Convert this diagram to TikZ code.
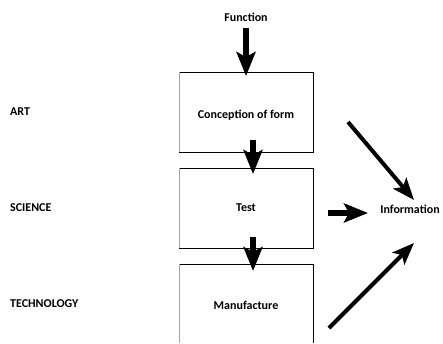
\documentclass[tikz,border=0pt]{standalone}
\usepackage{fontspec}
\setmainfont{Carlito}
\usetikzlibrary{arrows.meta}
\begin{document}
\begin{tikzpicture}[x=1pt,y=-1pt,
  lbl/.style={font=\bfseries\fontsize{12}{14}\selectfont, inner sep=0pt},
  boxline/.style={line width=0.9pt, draw=black},
  boxleft/.style={line width=0.9pt, draw=black!35},
  bigarrow/.style={line width=5.5pt, -{Stealth[length=24pt,width=19pt,inset=5pt]}},
  diagarrow/.style={line width=4pt, -{Stealth[length=22pt,width=17pt,inset=5pt]}}]
\useasboundingbox (0,0) rectangle (443,343);
% boxes
\draw[boxline] (179,72) -- (313,72) -- (313,152) -- (179,152);
\draw[boxleft] (179,72) -- (179,152);
\draw[boxline] (179,168) -- (313,168) -- (313,248) -- (179,248);
\draw[boxleft] (179,168) -- (179,248);
\draw[boxline] (179,264) -- (313,264) -- (313,343);
\draw[boxleft] (179,264) -- (179,343);
% texts
\node[lbl] (func) at (246,17) {Function};
\node[lbl] (conc) at (246,115) {Conception of form};
\node[lbl] (test) at (246,208) {Test};
\node[lbl] (manu) at (246,305) {Manufacture};
\node[lbl] (info) at (410,209) {Information};
\node[lbl, anchor=west] (art) at (10,112) {ART};
\node[lbl, anchor=west] (sci) at (10,208) {SCIENCE};
\node[lbl, anchor=west] (tech) at (10,304) {TECHNOLOGY};
% arrow end points
\coordinate (a1s) at (246,28);  \coordinate (a1e) at (246,76);
\coordinate (a2s) at (253,140); \coordinate (a2e) at (253,174);
\coordinate (a3s) at (253,237); \coordinate (a3e) at (253,271);
\coordinate (hs) at (328,213);  \coordinate (he) at (368,213);
\coordinate (d1s) at (348,122); \coordinate (d1e) at (414,200);
\coordinate (d2s) at (329,328); \coordinate (d2e) at (414,243);
\draw[bigarrow] (a1s) -- (a1e);
\draw[bigarrow] (a2s) -- (a2e);
\draw[bigarrow] (a3s) -- (a3e);
\draw[bigarrow] (hs) -- (he);
\draw[diagarrow] (d1s) -- (d1e);
\draw[diagarrow] (d2s) -- (d2e);
\end{tikzpicture}
\end{document}
